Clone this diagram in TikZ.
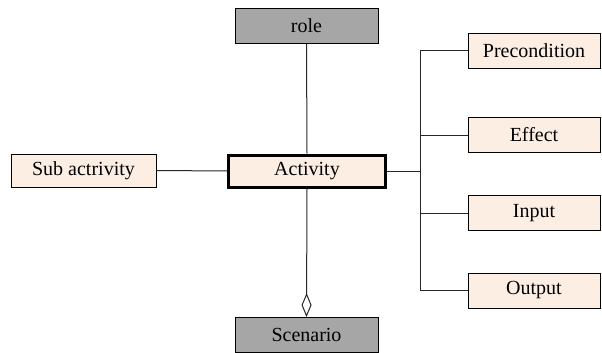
\documentclass[tikz,border=0pt]{standalone}
\usepackage{fontspec}
\setmainfont{Liberation Serif}
\usetikzlibrary{arrows.meta}
\definecolor{peach}{HTML}{FDEEE3}
\definecolor{boxgray}{HTML}{A6A6A6}
\tikzset{
  item/.style={draw=black, line width=0.9pt, fill=peach, minimum height=35pt,
    inner sep=0pt, font=\fontsize{20}{24}\selectfont},
  grayitem/.style={item, fill=boxgray, minimum width=143pt},
  link/.style={draw=black!85, line width=1pt},
}
\begin{document}
\begin{tikzpicture}[x=1pt, y=-1pt]
  \useasboundingbox (0,0) rectangle (602,353);
  % central activity
  \node[item, line width=3pt, minimum width=157pt, minimum height=32pt] (act) at (307,171) {Activity};
  \node[grayitem] (role) at (306.5,25.5) {role};
  \node[grayitem] (scen) at (306.5,335) {Scenario};
  \node[item, minimum width=145pt, minimum height=33pt] (sub) at (83.5,170.5) {Sub actrivity};
  % right-hand properties
  \node[item, minimum width=132pt] (pre) at (534,50.5) {Precondition};
  \node[item, minimum width=132pt] (eff) at (534,135) {Effect};
  \node[item, minimum width=132pt] (inp) at (534,213) {Input};
  \node[item, minimum width=132pt] (out) at (534,290.5) {Output};
  % trunk coordinates
  \coordinate (tp) at (420,50.5);
  \coordinate (tm) at (420,171);
  \coordinate (to) at (420,290.5);
  % connectors
  \draw[link] (role.south) -- (act.north);
  \draw[link, -{Diamond[open, length=24pt, width=10pt, line width=1pt]}] (act.south) -- (scen.north);
  \draw[link] (sub.east) -- (act.west);
  \draw[link] (act.east) -- (tm);
  \draw[link] (pre.west) -- (tp) -- (to) -- (out.west);
  \draw[link] (eff.west) -- (eff.west -| tp);
  \draw[link] (inp.west) -- (inp.west -| tp);
\end{tikzpicture}
\end{document}
